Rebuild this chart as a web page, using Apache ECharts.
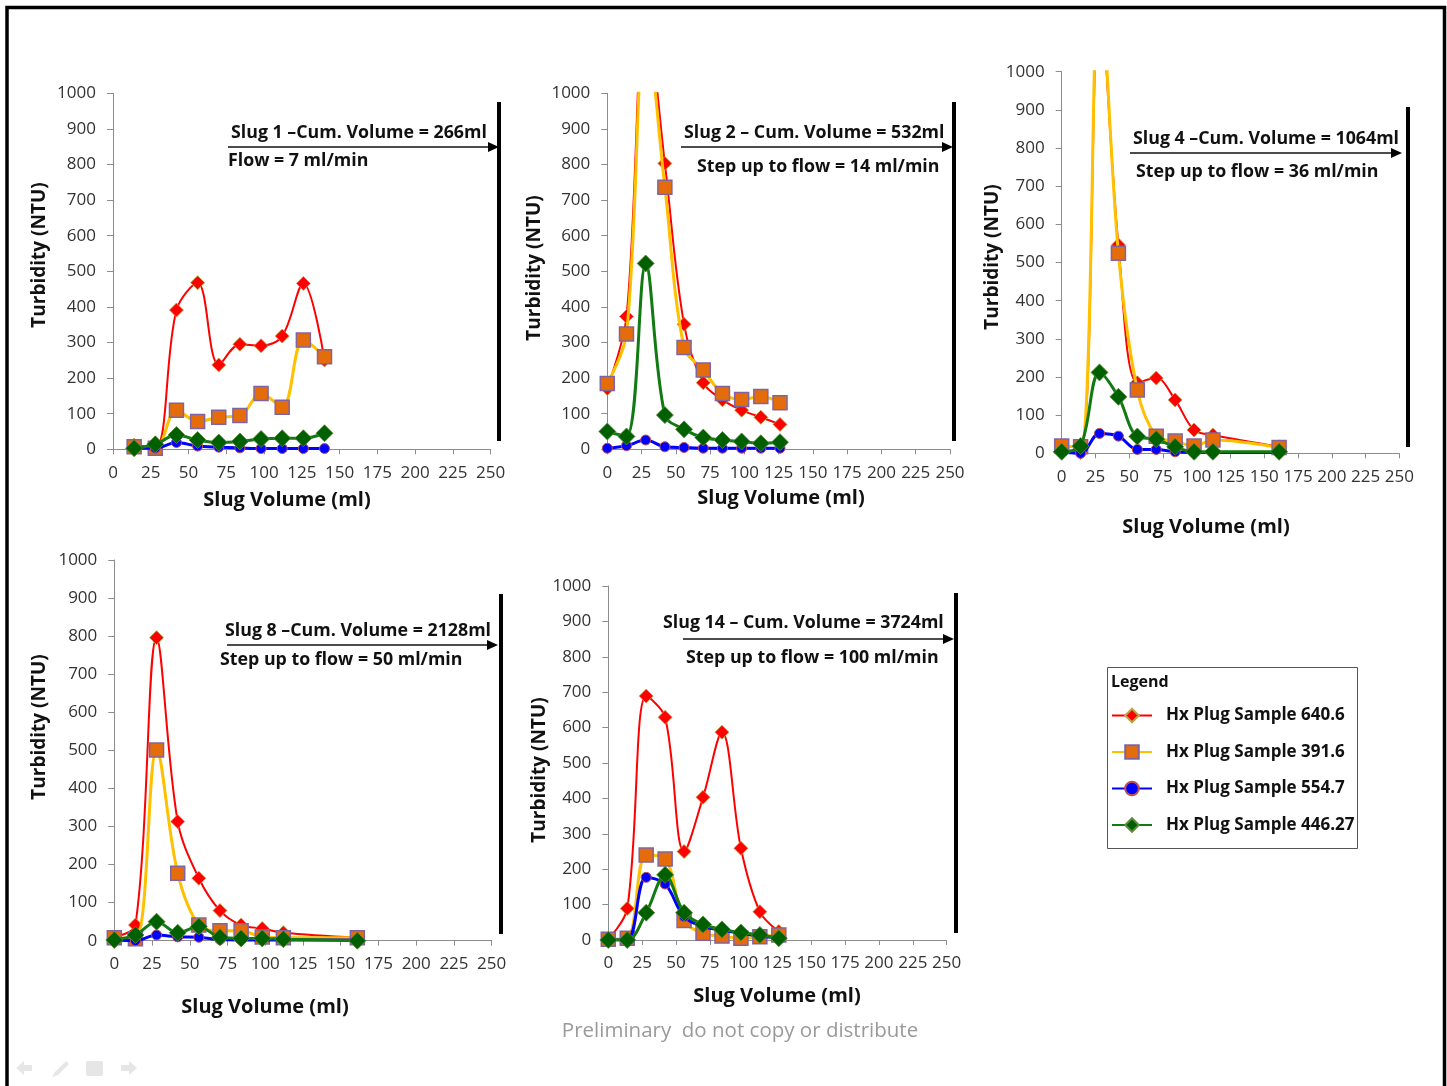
<!DOCTYPE html>
<html>
<head>
<meta charset="utf-8">
<title>Turbidity vs Slug Volume</title>
<script src="https://cdn.jsdelivr.net/npm/echarts@6/dist/echarts.min.js"></script>
<style>
  html, body { margin: 0; padding: 0; background: #fff; }
  #chart { width: 1447px; height: 1086px; }
</style>
</head>
<body>
<div id="chart"></div>
<script>
// ---- Data -------------------------------------------------------------
const SAMPLES = ['Hx Plug Sample 640.6', 'Hx Plug Sample 391.6', 'Hx Plug Sample 554.7', 'Hx Plug Sample 446.27'];

const xTicks = [0, 25, 50, 75, 100, 125, 150, 175, 200, 225, 250];
const yTicks = [0, 100, 200, 300, 400, 500, 600, 700, 800, 900, 1000];

// Slug 1 – 7 ml/min
const volSlug1 = [14, 28, 42, 56, 70, 84, 98, 112, 126, 140];
const slug1_640 = [12, 5, 391, 468, 237, 295, 291, 318, 466, 251];
const slug1_391 = [7, 3, 110, 78, 90, 95, 157, 118, 307, 260];
const slug1_554 = [3, 3, 19, 9, 6, 4, 2, 2, 2, 2];
const slug1_446 = [3, 14, 40, 26, 19, 22, 29, 31, 31, 45];

// Slug 2 – 14 ml/min (peak at 28 ml runs above the axis)
const volSlug2 = [0, 14, 28, 42, 56, 70, 84, 98, 112, 126];
const slug2_640 = [171, 373, 1250, 803, 351, 187, 139, 110, 90, 70];
const slug2_391 = [185, 324, 1200, 736, 286, 223, 157, 140, 148, 131];
const slug2_554 = [3, 10, 26, 7, 5, 3, 3, 3, 3, 3];
const slug2_446 = [50, 36, 522, 96, 56, 33, 26, 22, 17, 20];

// Slug 4 – 36 ml/min
const volSlug4 = [0, 14, 28, 42, 56, 70, 84, 98, 112, 161];
const slug4_640 = [9, 2, 1200, 546, 185, 197, 140, 61, 48, 17];
const slug4_391 = [19, 17, 1250, 524, 166, 45, 32, 19, 35, 15];
const slug4_554 = [2, 0, 52, 45, 10, 10, 4, 2, 2, 2];
const slug4_446 = [4, 19, 212, 148, 44, 37, 17, 4, 4, 4];

// Slug 8 – 50 ml/min
const volSlug8 = [0, 14, 28, 42, 56, 70, 84, 98, 112, 161];
const slug8_640 = [10, 41, 796, 313, 164, 79, 41, 32, 21, 8];
const slug8_391 = [8, 5, 501, 177, 41, 26, 26, 10, 8, 8];
const slug8_554 = [2, 0, 15, 10, 9, 3, 2, 2, 2, 2];
const slug8_446 = [2, 15, 50, 21, 37, 9, 6, 6, 4, 0];

// Slug 14 – 100 ml/min
const volSlug14 = [0, 14, 28, 42, 56, 70, 84, 98, 112, 126];
const slug14_640 = [2, 89, 689, 629, 250, 403, 587, 259, 80, 24];
const slug14_391 = [2, 5, 240, 229, 55, 19, 11, 5, 9, 14];
const slug14_554 = [0, 0, 177, 158, 66, 38, 28, 19, 11, 5];
const slug14_446 = [0, 0, 77, 184, 77, 44, 30, 21, 14, 5];

const panelData = [
  { vol: volSlug1,  series: [slug1_640,  slug1_391,  slug1_554,  slug1_446] },
  { vol: volSlug2,  series: [slug2_640,  slug2_391,  slug2_554,  slug2_446] },
  { vol: volSlug4,  series: [slug4_640,  slug4_391,  slug4_554,  slug4_446] },
  { vol: volSlug8,  series: [slug8_640,  slug8_391,  slug8_554,  slug8_446] },
  { vol: volSlug14, series: [slug14_640, slug14_391, slug14_554, slug14_446] }
];

const slugTitles = [
  ['Slug 1 \u2013Cum. Volume = 266ml', 'Flow = 7 ml/min'],
  ['Slug 2 \u2013 Cum. Volume = 532ml', 'Step up to flow = 14 ml/min'],
  ['Slug 4 \u2013Cum. Volume = 1064ml', 'Step up to flow = 36 ml/min'],
  ['Slug 8 \u2013Cum. Volume = 2128ml', 'Step up to flow = 50 ml/min'],
  ['Slug 14 \u2013 Cum. Volume = 3724ml', 'Step up to flow = 100 ml/min']
];

// ---- Layout -----------------------------------------------------------
const FONT = '"Open Sans", "DejaVu Sans", sans-serif';

const layout = [
  { grid: [113, 93.3, 377.7, 356], yTitle: [40, 255], xTitle: [287, 500],
    t1: [231, 133], t2: [228, 161], arrow: [228, 499, 147], bar: [499, 102, 441] },
  { grid: [607.3, 93.3, 342.7, 356], yTitle: [535, 268], xTitle: [781, 498],
    t1: [684, 133], t2: [697, 167], arrow: [681, 953, 147], bar: [954, 102, 441] },
  { grid: [1061.7, 71.7, 337.6, 381.6], yTitle: [993, 257], xTitle: [1206, 527],
    t1: [1133, 139], t2: [1136, 172], arrow: [1130, 1402, 153], bar: [1408, 107, 447] },
  { grid: [114.3, 560, 377.4, 380.7], yTitle: [40, 727], xTitle: [265, 1007],
    t1: [225, 631], t2: [220, 660], arrow: [227, 498, 645], bar: [501, 594, 934] },
  { grid: [608.3, 586, 338.3, 354], yTitle: [540, 770], xTitle: [777, 996],
    t1: [663, 623], t2: [686, 658], arrow: [683, 954, 639], bar: [956, 593, 933] }
];

const seriesStyle = [
  { symbol: 'diamond', size: 14, line: { color: '#FF0000', width: 2 },
    item: { color: '#FF0000', borderColor: '#b8a848', borderWidth: 0.8 } },
  { symbol: 'rect', size: 14, line: { color: '#FFC000', width: 3 },
    item: { color: '#E46C0A', borderColor: '#8064A2', borderWidth: 1.5 } },
  { symbol: 'circle', size: 10, line: { color: '#0000FF', width: 3 },
    item: { color: '#0000FF', borderColor: '#C0504D', borderWidth: 1 } },
  { symbol: 'diamond', size: 17, line: { color: '#127A12', width: 3 },
    item: { color: '#006000', borderColor: '#5c8a3a', borderWidth: 0.8 } }
];

const axisGray = '#8c8c8c';
const plainNumber = v => String(v);

// ---- Axes and series --------------------------------------------------
const grids = [], xAxes = [], yAxes = [], series = [];
layout.forEach((p, i) => {
  grids.push({ left: p.grid[0], top: p.grid[1], width: p.grid[2], height: p.grid[3] });
  xAxes.push({
    gridIndex: i, type: 'value',
    min: xTicks[0], max: xTicks[xTicks.length - 1], interval: xTicks[1] - xTicks[0],
    axisLine: { show: true, lineStyle: { color: axisGray, width: 1 } },
    axisTick: { show: true, length: 5, lineStyle: { color: axisGray } },
    axisLabel: { margin: 15, fontSize: 17, color: '#333', fontFamily: FONT, formatter: plainNumber },
    splitLine: { show: false }
  });
  yAxes.push({
    gridIndex: i, type: 'value',
    min: yTicks[0], max: yTicks[yTicks.length - 1], interval: yTicks[1] - yTicks[0],
    axisLine: { show: true, lineStyle: { color: axisGray, width: 1 } },
    axisTick: { show: true, length: 6, lineStyle: { color: axisGray } },
    axisLabel: { margin: 17, fontSize: 17, color: '#333', fontFamily: FONT, formatter: plainNumber },
    splitLine: { show: false }
  });
  const d = panelData[i];
  d.series.forEach((vals, j) => {
    const st = seriesStyle[j];
    series.push({
      type: 'line', name: SAMPLES[j],
      xAxisIndex: i, yAxisIndex: i,
      data: d.vol.map((v, k) => [v, vals[k]]),
      smooth: 0.35,
      clip: true,
      symbol: st.symbol, symbolSize: st.size,
      lineStyle: st.line,
      itemStyle: st.item,
      emphasis: { disabled: true },
      z: 2 + j
    });
  });
});

// ---- Annotations ------------------------------------------------------
const graphics = [];

// slide frame
graphics.push({ type: 'rect', shape: { x: 7, y: 7.5, width: 1437.5, height: 1100 },
  style: { fill: 'none', stroke: '#000', lineWidth: 3.5 }, silent: true });

layout.forEach((p, i) => {
  graphics.push({ type: 'text', x: p.yTitle[0], y: p.yTitle[1], rotation: Math.PI / 2,
    style: { text: 'Turbidity (NTU)', font: 'bold 19px ' + FONT, fill: '#111',
      align: 'center', verticalAlign: 'middle' } });
  graphics.push({ type: 'text', x: p.xTitle[0], y: p.xTitle[1],
    style: { text: 'Slug Volume (ml)', font: 'bold 20px ' + FONT, fill: '#111',
      align: 'center', verticalAlign: 'middle' } });
  graphics.push({ type: 'text', x: p.t1[0], y: p.t1[1],
    style: { text: slugTitles[i][0], font: 'bold 17.8px ' + FONT, fill: '#111',
      align: 'left', verticalAlign: 'middle' } });
  graphics.push({ type: 'text', x: p.t2[0], y: p.t2[1],
    style: { text: slugTitles[i][1], font: 'bold 17.8px ' + FONT, fill: '#111',
      align: 'left', verticalAlign: 'middle' } });
  const [ax0, ax1, ay] = p.arrow;
  graphics.push({ type: 'line', shape: { x1: ax0, y1: ay, x2: ax1 - 8, y2: ay },
    style: { stroke: '#111', lineWidth: 1.3 } });
  graphics.push({ type: 'polygon', shape: { points: [[ax1 - 11, ay - 5], [ax1, ay], [ax1 - 11, ay + 5]] },
    style: { fill: '#000' } });
  const [bx, by0, by1] = p.bar;
  graphics.push({ type: 'rect', shape: { x: bx - 2, y: by0, width: 4, height: by1 - by0 },
    style: { fill: '#000' } });
});

// legend frame and heading
graphics.push({ type: 'rect', shape: { x: 1107.5, y: 667.5, width: 250, height: 181 },
  style: { fill: '#fff', stroke: '#555', lineWidth: 1 }, z: -1 });
graphics.push({ type: 'text', x: 1111, y: 682,
  style: { text: 'Legend', font: 'bold 16px ' + FONT, fill: '#111', align: 'left', verticalAlign: 'middle' } });

// footer note
graphics.push({ type: 'text', x: 740, y: 1031,
  style: { text: 'Preliminary  do not copy or distribute', font: '20.5px ' + FONT, fill: '#9a9a9a',
    align: 'center', verticalAlign: 'middle' } });

// faint slide-show controls
const ctl = '#e6e6e6';
graphics.push({ type: 'polygon', shape: { points: [[16, 1068], [24, 1061], [24, 1065], [32, 1065], [32, 1071], [24, 1071], [24, 1075]] }, style: { fill: ctl } });
graphics.push({ type: 'polygon', shape: { points: [[52, 1077], [55, 1072], [66, 1061], [69, 1064], [58, 1075]] }, style: { fill: ctl } });
graphics.push({ type: 'rect', shape: { x: 86, y: 1061, width: 17, height: 15, r: 2 }, style: { fill: ctl } });
graphics.push({ type: 'polygon', shape: { points: [[137, 1068], [129, 1061], [129, 1065], [121, 1065], [121, 1071], [129, 1071], [129, 1075]] }, style: { fill: ctl } });

// ---- Chart ------------------------------------------------------------
const chart = echarts.init(document.getElementById('chart'), null, { renderer: 'canvas' });
chart.setOption({
  animation: false,
  backgroundColor: '#fff',
  textStyle: { fontFamily: FONT },
  grid: grids,
  xAxis: xAxes,
  yAxis: yAxes,
  legend: {
    data: SAMPLES,
    orient: 'vertical',
    left: 1111, top: 707,
    padding: 0,
    itemWidth: 40, itemHeight: 17, itemGap: 19.5,
    selectedMode: false,
    textStyle: { fontFamily: FONT, fontWeight: 'bold', fontSize: 17, color: '#111', padding: [0, 0, 0, 9] }
  },
  graphic: graphics,
  series: series
});
</script>
</body>
</html>
